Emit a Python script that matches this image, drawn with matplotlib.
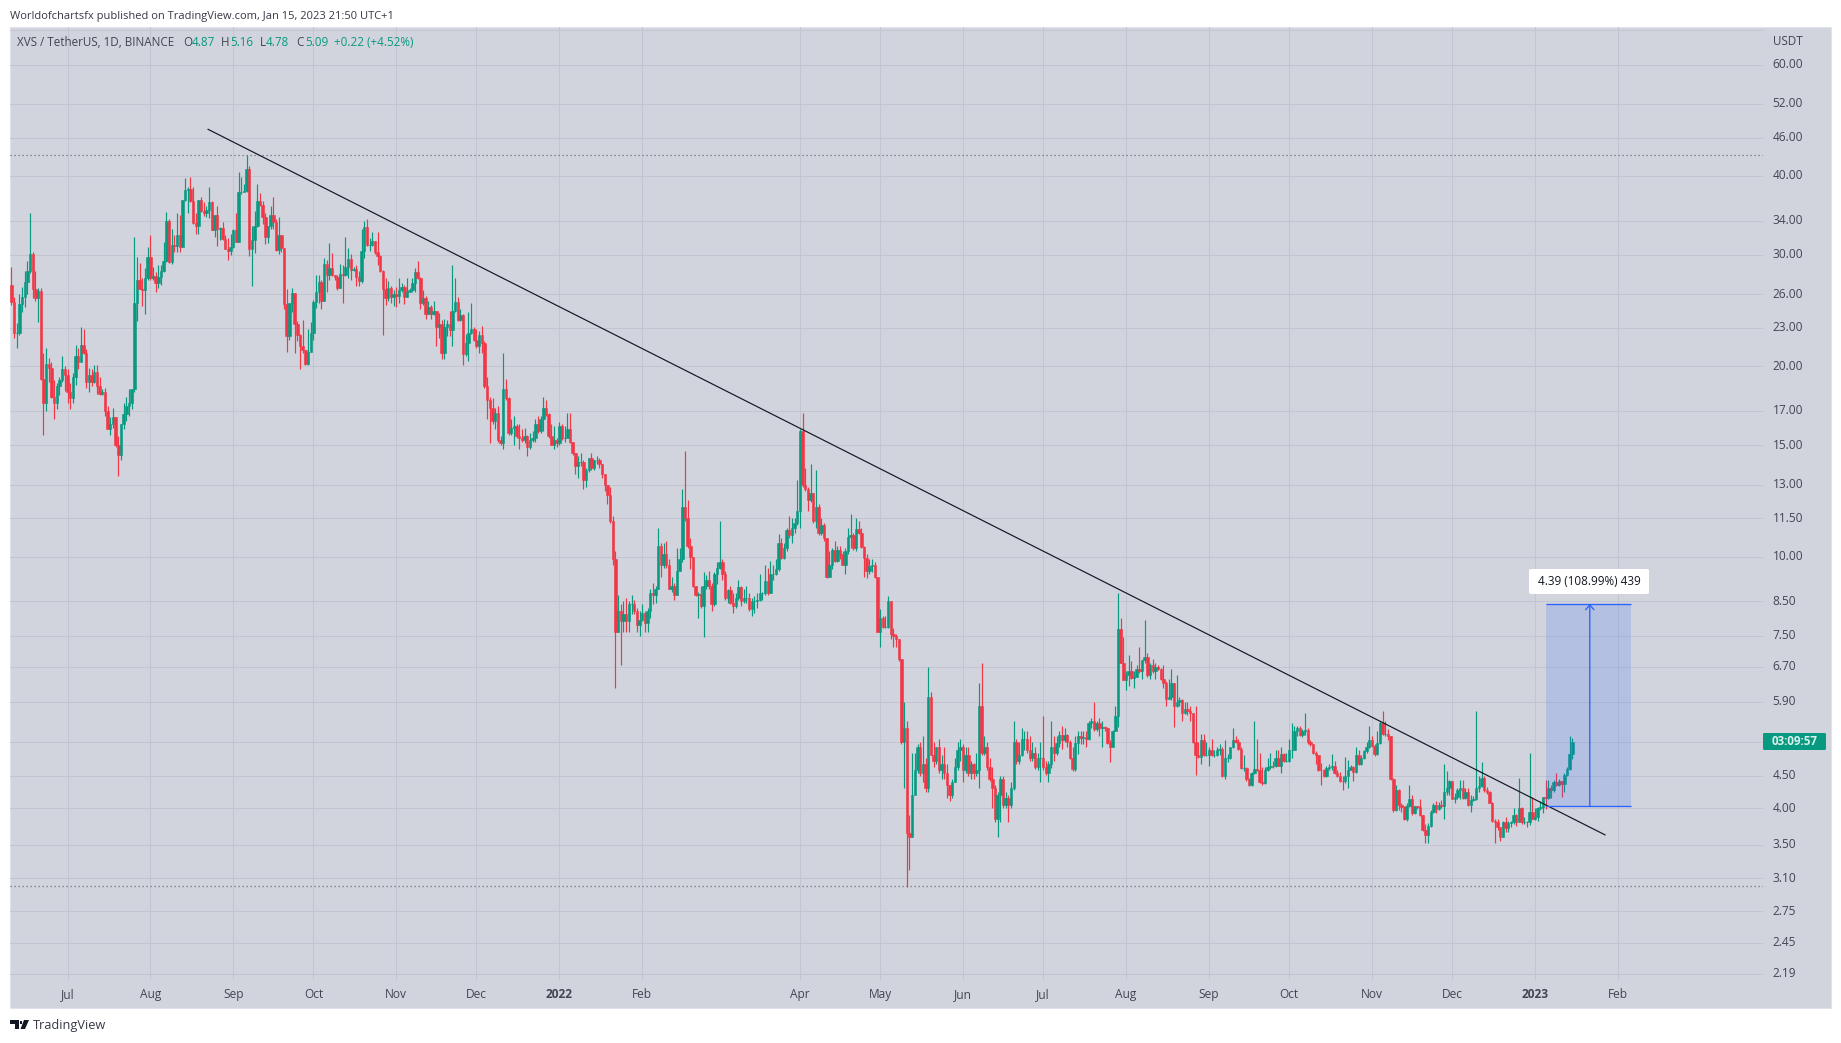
import numpy as np
import pandas as pd
import matplotlib
matplotlib.use('Agg')
import matplotlib.pyplot as plt
import matplotlib.dates as mdates
from matplotlib.patches import Rectangle, Polygon, FancyBboxPatch
from matplotlib.transforms import ScaledTranslation

plt.rcParams['font.family'] = ['Open Sans', 'DejaVu Sans']

W, H = 1841, 1043

# daily candles, 10 Jun 2021 to 15 Jan 2023
first_open = 26.9
closes = [
    25.3,22.6,22.6,25.1,25.7,27.2,28.3,30.1,26.5,25.6,
    26.3,19.1,17.5,20.2,19.9,17.9,17.5,18.6,19.0,19.8,
    19.4,18.2,17.8,19.2,20.8,20.3,21.6,21.0,18.9,19.4,
    18.9,19.6,18.6,18.1,18.2,17.0,15.9,16.2,16.6,15.0,
    14.5,16.2,16.8,17.3,17.5,18.4,25.2,27.4,26.5,26.4,
    27.6,29.8,27.6,27.8,27.1,27.7,28.3,29.3,34.0,29.2,
    31.1,31.0,32.3,30.9,36.6,38.0,38.1,36.5,33.7,33.3,
    36.7,35.2,34.9,35.3,36.4,32.9,34.7,33.0,33.1,31.8,
    30.7,30.4,30.9,32.9,31.5,37.7,37.7,37.8,41.0,30.7,
    31.7,33.3,36.5,36.0,34.5,32.0,33.3,34.7,33.8,30.5,
    32.2,30.8,25.1,22.3,25.2,26.1,23.3,22.4,21.5,21.2,
    20.2,21.1,22.6,25.3,26.2,27.2,25.4,29.0,27.9,28.6,
    27.9,27.7,26.6,28.0,27.9,28.7,29.6,28.4,28.5,27.7,
    27.3,30.4,33.2,31.1,31.1,31.6,30.3,29.9,28.3,26.5,
    25.6,26.6,25.7,26.0,25.8,26.4,26.7,25.7,26.2,26.4,
    27.1,28.2,27.6,25.2,25.6,24.2,24.8,24.2,24.5,23.1,
    23.3,21.0,23.1,23.3,22.8,24.5,25.3,23.7,24.1,20.9,
    21.8,22.6,22.9,22.0,21.5,22.4,21.8,18.6,17.7,17.2,
    16.4,16.9,15.3,15.1,18.4,17.8,15.7,16.0,16.1,15.5,
    15.4,15.3,15.5,14.9,15.3,15.4,16.2,15.8,16.5,17.2,
    16.8,15.5,15.0,15.3,15.1,16.1,15.4,15.4,15.9,15.2,
    14.6,13.9,14.1,14.1,13.2,13.7,14.3,13.8,14.2,14.2,
    14.0,13.5,13.0,12.5,11.4,9.9,7.6,8.2,7.9,8.1,
    7.9,8.4,8.4,8.2,7.8,7.95,8.15,7.85,8.2,8.75,
    8.7,8.9,10.4,9.7,10.1,9.7,8.9,9.0,8.7,9.5,
    9.9,12.0,11.5,10.4,10.0,9.0,8.7,8.73,8.35,9.0,
    9.2,9.0,8.4,9.4,9.6,9.8,9.4,8.6,8.85,8.45,
    8.35,8.6,8.95,8.5,8.6,8.6,8.25,8.5,8.5,8.55,
    8.75,8.75,9.15,8.75,9.4,9.4,9.55,10.5,9.95,10.3,
    11.0,10.8,11.1,11.3,11.8,15.8,13.0,12.8,12.3,12.6,
    11.4,12.0,10.9,11.2,10.7,9.3,9.7,10.25,9.85,10.25,
    10.1,9.7,10.2,10.75,10.8,10.3,11.05,10.9,10.35,9.95,
    9.5,9.65,9.7,9.3,7.6,8.0,7.75,7.75,8.5,7.55,
    7.5,7.4,6.9,5.1,5.35,3.65,3.6,4.2,4.6,5.0,
    4.55,4.7,4.3,6.0,4.85,4.75,5.0,4.6,4.7,4.55,
    4.35,4.2,4.4,4.65,4.95,5.0,4.6,4.85,4.55,4.7,
    4.55,4.6,5.8,4.9,5.0,4.65,4.45,4.3,3.85,4.2,
    4.45,4.05,4.15,4.05,4.3,5.1,4.75,4.85,5.15,5.15,
    4.95,4.8,4.9,4.65,4.8,4.8,4.65,4.55,4.7,5.0,
    4.9,5.07,5.23,5.12,5.23,5.1,4.8,4.62,5.08,5.2,
    5.17,5.18,5.15,5.45,5.5,5.33,5.45,5.35,5.38,5.35,
    5.07,5.0,5.3,5.6,7.67,6.8,6.38,6.5,6.6,6.43,
    6.45,6.65,6.6,6.87,6.95,6.5,6.75,6.6,6.7,6.65,
    6.4,6.3,5.95,6.0,6.3,5.8,5.9,5.93,5.65,5.75,
    5.7,5.65,5.1,4.85,4.82,5.12,4.85,4.85,4.95,4.85,
    4.85,4.95,4.97,4.5,4.8,4.8,5.0,5.12,5.1,4.97,
    4.63,4.63,4.45,4.35,4.55,4.62,4.6,4.4,4.38,4.6,
    4.65,4.67,4.66,4.8,4.67,4.87,4.75,4.75,4.95,4.95,
    5.3,5.35,5.22,5.3,5.32,5.1,5.05,4.9,4.85,4.6,
    4.59,4.5,4.63,4.65,4.67,4.55,4.5,4.42,4.41,4.5,
    4.6,4.65,4.57,4.85,4.7,4.8,4.92,5.0,5.13,5.02,
    4.87,5.07,5.45,5.24,5.24,5.2,4.45,3.97,4.27,4.05,
    4.02,3.85,4.03,4.14,3.93,4.03,4.02,3.9,3.7,3.63,
    3.75,3.95,4.05,3.99,4.05,4.03,4.24,4.3,4.42,4.14,
    4.16,4.28,4.3,4.15,4.25,4.05,4.12,4.14,4.3,4.33,
    4.47,4.27,4.24,4.08,3.82,3.8,3.73,3.6,3.8,3.72,
    3.79,3.8,3.9,3.81,4.0,3.8,3.81,3.8,3.95,3.85,
    3.87,4.0,4.02,4.16,4.15,4.3,4.28,4.4,4.35,4.41,
    4.37,4.52,4.62,4.87,5.09,
]
highs = [
    28.7,25.7,23.4,26.0,26.7,28.3,29.3,34.9,30.3,28.3,
    26.6,26.6,21.0,21.4,20.6,20.3,19.0,18.8,19.2,20.8,
    20.0,19.8,18.8,19.5,21.6,21.4,23.1,22.9,21.3,19.9,
    19.8,20.1,20.1,19.2,18.4,18.5,17.3,16.6,17.2,16.6,
    15.5,16.2,17.5,17.9,18.4,18.4,32.0,29.8,29.1,27.6,
    28.6,30.9,32.2,28.7,28.2,28.9,28.9,31.4,35.1,34.2,
    33.0,32.2,34.9,34.7,36.6,39.7,38.4,39.9,38.4,34.9,
    36.7,37.1,36.4,35.9,38.4,36.5,34.7,35.8,33.2,33.8,
    32.2,31.9,32.4,33.0,34.9,40.6,39.8,38.9,43.2,41.5,
    33.3,35.2,38.8,37.6,36.5,34.9,33.3,35.9,37.0,34.2,
    34.5,32.2,30.8,26.5,25.2,26.6,26.1,23.6,22.5,23.7,
    21.2,22.9,23.5,25.5,27.9,27.9,27.4,29.7,29.4,31.3,
    30.2,27.9,27.9,29.0,28.9,32.0,30.8,30.1,28.7,28.9,
    28.3,33.0,34.0,34.2,31.9,32.6,31.6,32.6,30.0,28.4,
    27.6,27.3,26.8,26.4,26.7,27.6,27.1,26.9,27.6,26.6,
    27.6,28.6,29.3,27.7,26.4,25.8,25.4,25.0,25.4,24.4,
    24.3,23.7,23.8,23.7,24.5,28.9,27.6,25.7,24.6,24.2,
    22.5,24.4,25.2,23.1,22.9,22.7,23.2,21.9,19.2,17.9,
    17.8,17.2,17.3,15.5,21.0,19.1,17.9,16.5,16.7,16.2,
    16.2,15.9,16.0,15.6,15.7,15.8,16.5,16.7,16.7,17.9,
    17.7,16.9,16.2,16.1,15.4,16.3,16.2,16.1,16.9,16.9,
    15.2,14.6,14.4,14.6,14.2,13.8,14.3,14.6,14.2,14.4,
    14.3,14.0,13.5,12.9,12.9,11.6,10.2,8.7,8.4,8.5,
    8.6,8.5,8.7,8.55,8.3,8.2,8.4,8.2,8.3,8.9,
    9.1,9.0,11.1,10.5,10.5,10.6,9.9,9.3,9.1,10.3,
    10.3,12.8,14.7,12.3,10.7,10.0,9.0,8.8,9.0,9.45,
    9.35,9.5,9.1,9.45,9.8,11.4,9.9,9.5,8.9,9.0,
    8.75,8.75,9.2,9.0,8.9,9.0,8.75,8.6,8.65,8.75,
    9.4,8.8,9.7,9.6,9.85,9.7,9.9,10.85,10.7,10.5,
    11.1,11.6,11.5,11.5,13.2,15.9,16.9,13.8,12.9,14.0,
    12.6,13.7,12.1,11.5,11.3,10.7,10.2,10.3,10.6,10.4,
    10.4,10.2,10.3,11.1,11.7,10.9,11.5,11.4,11.1,10.4,
    10.1,9.9,9.9,9.8,9.3,8.25,8.05,8.05,8.65,8.5,
    7.7,7.55,7.4,6.9,5.9,5.5,3.9,4.9,4.9,5.05,
    5.1,5.2,4.8,6.7,6.1,5.1,5.0,5.15,4.85,5.0,
    4.7,4.35,4.45,4.8,5.1,5.15,5.05,5.0,5.0,4.75,
    4.72,4.9,6.3,6.8,5.2,5.1,4.8,4.65,4.35,4.25,
    4.5,4.5,4.25,4.2,4.4,5.5,5.15,5.1,5.35,5.3,
    5.3,5.2,5.1,5.0,4.9,5.1,5.6,4.75,4.75,5.5,
    5.2,5.2,5.3,5.4,5.35,5.25,5.12,5.0,5.2,5.3,
    5.3,5.3,5.3,5.5,5.55,5.9,5.5,5.55,5.5,5.4,
    5.37,5.12,5.32,5.8,8.76,8.0,7.45,6.6,7.0,6.85,
    6.6,6.75,7.2,6.87,7.95,7.05,6.8,6.9,6.8,6.75,
    6.67,6.75,6.35,6.4,6.65,6.3,6.5,6.0,5.95,5.9,
    5.9,5.8,5.65,5.8,5.1,5.25,5.25,5.1,5.0,5.15,
    4.95,5.0,5.05,5.0,5.12,4.87,5.0,5.35,5.2,5.15,
    5.0,4.85,4.65,4.47,4.57,5.5,5.15,4.9,4.65,4.65,
    4.8,4.9,4.75,4.95,4.95,5.0,4.9,4.9,5.15,5.45,
    5.4,5.4,5.4,5.33,5.65,5.35,5.13,5.05,4.92,4.85,
    4.72,4.62,4.66,4.7,4.88,4.75,4.59,4.56,4.5,4.82,
    4.77,4.68,4.67,5.0,4.95,4.85,4.94,5.1,5.4,5.2,
    5.05,5.3,5.5,5.7,5.5,5.33,5.2,4.47,4.35,4.29,
    4.08,4.03,4.07,4.35,4.2,4.04,4.03,4.13,3.9,3.78,
    3.79,3.97,4.07,4.1,4.09,4.12,4.7,4.58,4.44,4.35,
    4.23,4.31,4.44,4.44,4.3,4.3,4.2,4.18,5.7,4.5,
    4.73,4.5,4.32,4.26,4.09,3.85,3.84,3.74,3.82,3.88,
    3.82,3.82,4.0,3.92,4.47,4.02,3.88,3.82,4.9,4.17,
    4.0,4.02,4.1,4.17,4.44,4.44,4.35,4.43,4.54,4.45,
    4.42,4.54,4.64,5.2,5.16,
]
lows = [
    25.0,22.2,21.4,22.4,24.4,24.8,26.0,28.1,25.6,25.4,
    23.5,19.0,15.6,17.0,18.9,17.8,16.5,17.1,18.0,18.9,
    18.3,17.5,17.1,17.5,18.7,19.8,20.3,20.9,18.5,18.2,
    18.6,18.8,18.1,18.0,18.0,16.7,15.9,15.6,16.0,14.9,
    13.4,14.2,15.9,16.4,16.7,17.1,18.2,23.6,26.5,24.9,
    24.2,27.4,27.4,27.4,26.2,26.6,26.9,28.2,29.2,29.1,
    29.0,30.3,30.3,30.3,30.9,36.5,34.9,36.4,33.6,32.4,
    32.4,35.1,34.6,34.5,34.3,32.8,32.0,31.0,31.7,31.7,
    30.6,29.5,30.0,30.8,31.4,31.4,37.5,37.7,37.7,29.9,
    26.8,30.2,33.2,35.9,33.6,31.2,31.3,33.0,33.0,30.4,
    30.1,30.3,24.6,21.1,22.0,24.4,21.0,21.9,19.8,21.0,
    20.1,20.1,21.1,22.0,24.7,25.2,24.6,25.4,26.2,27.4,
    27.8,27.4,26.4,26.6,25.2,27.8,27.6,27.4,28.3,26.8,
    26.8,27.1,29.7,31.0,30.4,31.0,30.1,28.9,28.2,22.4,
    25.0,25.4,25.2,24.9,24.8,25.2,26.2,25.1,25.7,26.2,
    26.2,26.2,27.5,24.6,25.0,23.8,24.2,23.8,24.1,21.5,
    22.2,20.5,20.5,22.3,22.3,21.5,24.4,23.6,23.6,20.1,
    20.8,20.4,22.5,21.9,21.4,21.0,21.0,18.5,16.5,15.1,
    16.2,15.9,15.2,15.0,14.8,17.7,15.6,15.6,15.0,15.4,
    14.8,15.2,15.1,14.4,14.8,15.2,15.2,15.7,15.7,15.8,
    16.7,15.4,15.0,14.8,14.9,15.0,15.3,15.2,15.4,15.1,
    14.5,13.5,13.3,13.9,12.8,12.9,13.6,13.7,13.7,14.0,
    13.8,13.3,12.7,12.1,11.3,9.7,6.2,7.6,6.75,7.6,
    7.6,7.6,8.1,8.1,7.6,7.5,7.9,7.6,7.6,8.0,
    8.4,8.45,8.9,9.3,9.6,9.6,8.9,8.8,8.55,8.7,
    9.5,9.8,11.4,10.3,9.55,8.95,8.65,8.0,8.3,7.45,
    8.9,8.9,8.2,8.35,9.05,9.55,9.2,8.55,8.45,8.4,
    8.15,8.3,8.55,8.35,8.45,8.45,8.2,8.05,8.15,8.3,
    8.5,8.55,8.7,8.7,8.75,9.2,9.35,9.5,9.9,9.9,
    10.2,10.7,10.5,10.9,11.2,11.1,12.9,12.7,11.8,12.2,
    11.3,11.1,10.8,10.8,10.6,9.25,9.3,9.55,9.8,9.8,
    9.9,9.7,9.4,10.1,10.3,10.25,10.2,10.85,10.3,9.3,
    9.25,9.4,9.45,9.25,7.6,7.2,7.7,7.7,7.7,7.4,
    7.2,7.2,6.85,5.05,4.3,3.0,3.2,3.6,4.2,4.55,
    4.5,4.4,4.25,4.25,4.85,4.65,4.7,4.55,4.45,4.45,
    4.15,4.1,4.15,4.4,4.6,4.75,4.4,4.55,4.5,4.45,
    4.45,4.5,4.3,4.85,4.85,4.6,4.42,4.0,3.8,3.6,
    3.8,4.0,4.0,3.8,4.0,4.28,4.7,4.7,4.83,4.95,
    4.9,4.75,4.75,4.62,4.6,4.4,4.6,4.52,4.4,4.63,
    4.75,4.85,5.0,4.97,5.1,5.0,4.78,4.58,4.58,4.87,
    5.05,5.05,5.0,5.13,5.35,5.3,5.3,5.2,5.0,5.3,
    5.05,4.73,5.0,5.3,5.38,6.78,6.38,6.15,6.25,6.4,
    6.2,6.45,6.55,6.4,6.8,6.45,6.4,6.55,6.4,6.62,
    6.38,6.2,5.8,5.95,5.93,5.38,5.78,5.8,5.5,5.63,
    5.62,5.5,5.08,4.52,4.8,4.7,4.83,4.83,4.67,4.83,
    4.82,4.84,4.85,4.48,4.45,4.73,4.78,4.98,5.08,4.95,
    4.62,4.58,4.42,4.34,4.34,4.53,4.58,4.38,4.36,4.37,
    4.58,4.62,4.63,4.65,4.66,4.55,4.73,4.73,4.73,4.8,
    4.94,5.21,5.2,5.19,5.23,5.05,5.02,4.88,4.7,4.58,
    4.35,4.48,4.49,4.59,4.59,4.53,4.49,4.4,4.28,4.39,
    4.3,4.59,4.42,4.55,4.68,4.68,4.79,4.9,4.98,5.0,
    4.83,4.85,5.05,5.22,5.2,5.12,4.44,3.95,3.96,3.98,
    3.95,3.83,3.82,4.02,3.9,3.92,3.99,3.89,3.68,3.53,
    3.53,3.73,3.93,3.93,3.98,4.0,3.85,4.2,4.2,4.13,
    4.08,4.14,4.14,4.14,4.14,4.03,3.95,4.1,4.12,4.25,
    4.32,4.25,4.21,4.07,3.81,3.53,3.7,3.55,3.6,3.67,
    3.67,3.73,3.78,3.75,3.8,3.78,3.77,3.73,3.76,3.84,
    3.83,3.82,3.98,3.93,3.99,4.14,4.15,4.25,4.33,4.34,
    4.17,4.25,4.5,4.6,4.78,
]

price_ticks = [68, 60, 52, 46, 40, 34, 30, 26, 23, 20, 17, 15, 13, 11.5, 10, 8.5, 7.5,
               6.7, 5.9, 5.1, 4.5, 4.0, 3.5, 3.1, 2.75, 2.45, 2.19]
price_labels = ['', '60.00', '52.00', '46.00', '40.00', '34.00', '30.00', '26.00', '23.00',
                '20.00', '17.00', '15.00', '13.00', '11.50', '10.00', '8.50', '7.50', '6.70',
                '5.90', '', '4.50', '4.00', '3.50', '3.10', '2.75', '2.45', '2.19']
month_ticks = ['2021-07-01', '2021-08-01', '2021-09-01', '2021-10-01', '2021-11-01', '2021-12-01',
               '2022-01-01', '2022-02-01', '2022-04-01', '2022-05-01', '2022-06-01',
               '2022-07-01', '2022-08-01', '2022-09-01', '2022-10-01', '2022-11-01', '2022-12-01',
               '2023-01-01', '2023-02-01']
month_labels = ['Jul', 'Aug', 'Sep', 'Oct', 'Nov', 'Dec', '2022', 'Feb', 'Apr', 'May', 'Jun',
                'Jul', 'Aug', 'Sep', 'Oct', 'Nov', 'Dec', '2023', 'Feb']

trend_dates = ['2021-08-22 14:00', '2023-01-27 05:00']
trend_prices = [47.4, 3.63]
resistance, support = 43.2, 3.01
measure_dates = ['2023-01-05', '2023-02-06']
measure_mid = '2023-01-21 12:00'
measure_prices = [4.03, 8.42]

INK = '#434651'
UP = '#089981'
DOWN = '#f23645'
PANEL = '#d1d4dc'
GRID = '#c2c5d0'
BLUE = '#2962ff'


def px(x, y):
    return x / W, 1 - y / H


fig = plt.figure(figsize=(W / 100, H / 100), dpi=100, facecolor='white')
fig.add_artist(Rectangle(px(9.5, 1008), 1821.5 / W, 981 / H, transform=fig.transFigure,
                         facecolor=PANEL, edgecolor='#e0e3eb', linewidth=0.8, zorder=-5))

ax = fig.add_axes([10 / W, 1 - 980 / H, 1753 / W, 953 / H], facecolor='none')
ax.set_yscale('log')

closes = np.array(closes)
highs = np.array(highs)
lows = np.array(lows)
assert len(closes) == len(highs) == len(lows) == 585, (len(closes), len(highs), len(lows))
opens = np.r_[first_open, closes[:-1]]
highs = np.maximum(highs, np.maximum(opens, closes))
lows = np.minimum(lows, np.minimum(opens, closes))

dates = mdates.date2num(pd.date_range('2021-06-10', periods=len(closes)))
colors = np.where(closes >= opens, UP, DOWN)

ax.vlines(dates, lows, highs, colors=colors, linewidth=0.85, zorder=3)
ax.bar(dates, np.abs(closes - opens), bottom=np.minimum(opens, closes), width=0.92,
       color=colors, edgecolor=colors, linewidth=0.4, zorder=4)

# trend line and the two dotted levels
ax.plot(mdates.date2num(pd.to_datetime(trend_dates)), trend_prices, color='#131722', lw=0.85, zorder=6)
ax.axhline(resistance, color='#6f727c', lw=0.9, ls=(0, (1, 2.2)), zorder=2)
ax.axhline(support, color='#6f727c', lw=0.9, ls=(0, (1, 2.2)), zorder=2)

# measure box
mx = mdates.date2num(pd.to_datetime(measure_dates))
ax.fill_between(mx, measure_prices[0], measure_prices[1], color=BLUE, alpha=0.17, lw=0, zorder=5)
ax.hlines(measure_prices, mx[0], mx[1], color=BLUE, lw=0.95, zorder=6)
mid = mdates.date2num(pd.to_datetime(measure_mid))
ax.annotate('', xy=(mid, measure_prices[1]), xytext=(mid, measure_prices[0]), zorder=6,
            arrowprops=dict(arrowstyle='->,head_length=0.35,head_width=0.3', color=BLUE, lw=0.95,
                            shrinkA=0, shrinkB=0))

ax.set_ylim(2.14, 68.8)
ax.set_xlim(mdates.date2num(pd.Timestamp('2021-07-01')) + (10 - 67.5) / 2.673,
            mdates.date2num(pd.Timestamp('2021-07-01')) + (1763 - 67.5) / 2.673)

ax.yaxis.tick_right()
ax.minorticks_off()
ax.set_yticks(price_ticks)
ax.set_yticklabels(price_labels, fontsize=8.6, color=INK)
ax.set_xticks(mdates.date2num(pd.to_datetime(month_ticks)))
ax.set_xticklabels(month_labels, fontsize=8.6, color=INK)
ax.tick_params(axis='both', length=0)
ax.tick_params(axis='y', pad=7)
ax.tick_params(axis='x', pad=6)
for lab in ax.get_xticklabels():
    if lab.get_text() in ('2022', '2023'):
        lab.set_fontweight('bold')
# price labels sit a little above their grid lines
up_shift = ScaledTranslation(0, 1.5 / 100, fig.dpi_scale_trans)
for lab in ax.get_yticklabels():
    lab.set_transform(lab.get_transform() + up_shift)
ax.grid(True, color=GRID, lw=0.7, zorder=1)
ax.set_axisbelow(True)
for sp in ax.spines.values():
    sp.set_visible(False)


def label(x, y, s, color=INK, **kw):
    kw.setdefault('fontsize', 8.4)
    fx, fy = px(x, y)
    fig.text(fx, fy, s, color=color, va='center', **kw)


# header, legend row
label(10, 16, 'Worldofchartsfx published on TradingView.com, Jan 15, 2023 21:50 UTC+1', color='#363a45',
      fontsize=8.0)
label(17, 43, 'XVS / TetherUS, 1D, BINANCE', fontsize=8.4)
for x, s, c in [(183, 'O', INK), (192, '4.87', UP), (221, 'H', INK), (230, '5.16', UP),
                (260, 'L', INK), (266, '4.78', UP), (296, 'C', INK), (305, '5.09', UP),
                (334, '+0.22 (+4.52%)', UP)]:
    label(x, 43, s, color=c)
label(1773, 42, 'USDT')

# countdown badge on the price axis
fig.add_artist(FancyBboxPatch(px(1763, 750), 63 / W, 17 / H, transform=fig.transFigure,
                              boxstyle='round,pad=0,rounding_size=0.001', facecolor=UP, edgecolor='none'))
label(1794.5, 741.5, '03:09:57', color='#d9f2ec', ha='center', fontweight='bold')

# measure tag
fig.add_artist(FancyBboxPatch(px(1529, 594), 120 / W, 25 / H, transform=fig.transFigure,
                              boxstyle='round,pad=0,rounding_size=0.002', facecolor='white', edgecolor='none',
                              mutation_aspect=H / W))
label(1589, 581.5, '4.39 (108.99%) 439', color='#131722', ha='center')

# TradingView mark
dark = '#131722'
fig.add_artist(Polygon([px(10, 1020), px(19, 1020), px(19, 1029), px(15, 1029), px(15, 1024), px(10, 1024)],
                       closed=True, transform=fig.transFigure, facecolor=dark, edgecolor='none'))
fig.add_artist(Polygon([px(24, 1020), px(29, 1020), px(25, 1029), px(20.5, 1029)],
                       closed=True, transform=fig.transFigure, facecolor=dark, edgecolor='none'))
fig.add_artist(Rectangle(px(19.5, 1024), 2.5 / W, 3.5 / H, transform=fig.transFigure, facecolor=dark, edgecolor='none'))
label(33, 1025, 'TradingView', color='#363a45', fontsize=9.2)

fig.savefig('out.png', dpi=100, facecolor='white')
